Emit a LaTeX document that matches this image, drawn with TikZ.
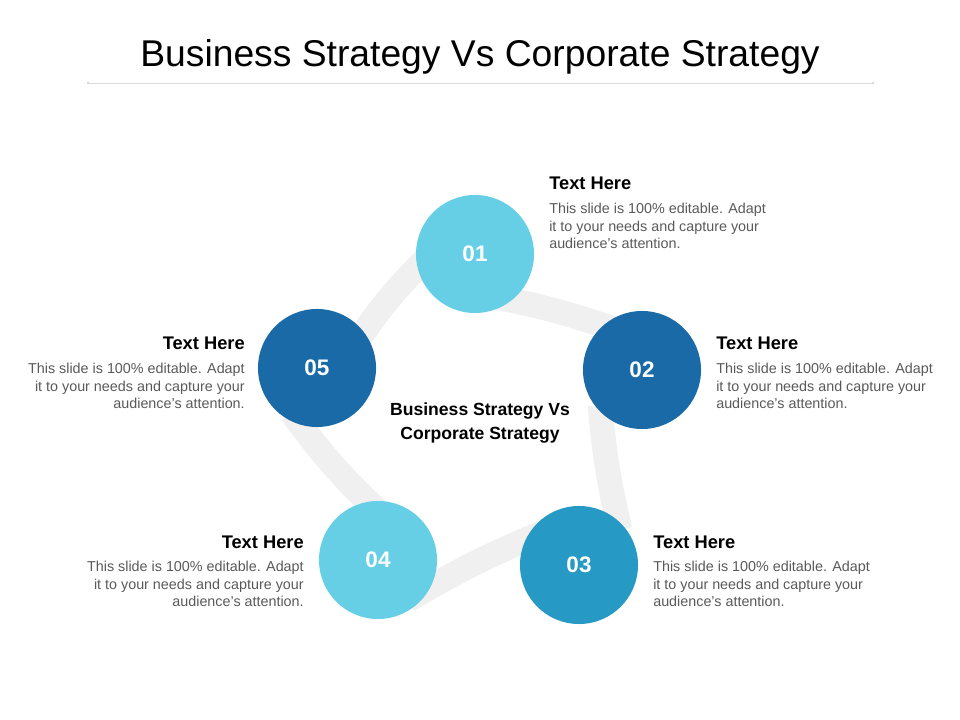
\documentclass[tikz,border=0pt]{standalone}
\usepackage{fontspec}
\setmainfont{Liberation Sans}
\usetikzlibrary{positioning,backgrounds,calc}
\definecolor{lightblue}{HTML}{66CFE6}
\definecolor{darkblue}{HTML}{1A6AA8}
\definecolor{midblue}{HTML}{2699C4}
\definecolor{ribbon}{HTML}{F0F0F0}
\definecolor{bodygray}{HTML}{595959}
\definecolor{rulegray}{HTML}{D9D9D9}

\begin{document}
\begin{tikzpicture}[x=0.025cm,y=-0.025cm,
		step node/.style={circle,minimum size=2.95cm,inner sep=0pt,text=white,font=\fontsize{16}{16}\selectfont\bfseries},
		band/.style={ribbon,line width=0.62cm},
		head/.style={font=\fontsize{13}{14}\selectfont\bfseries,inner sep=0pt},
		body/.style={font=\fontsize{10.2}{12.4}\selectfont,text=bodygray,inner sep=0pt}]
		
		\useasboundingbox (0,0) rectangle (960,720);
		
		% title
		\node[font=\fontsize{26.5}{30}\selectfont] (title) at (480,57) {Business Strategy Vs Corporate Strategy};
		\draw[rulegray] (88,83) -- (873,83);
		\fill[rulegray] (88,83) circle (1.5) (873,83) circle (1.5);
		
		% circles
		\node[step node,fill=lightblue] (c1) at (475,254) {01};
		\node[step node,fill=darkblue] (c2) at (642,370) {02};
		\node[step node,fill=midblue] (c3) at (579,565) {03};
		\node[step node,fill=lightblue] (c4) at (378,560) {04};
		\node[step node,fill=darkblue] (c5) at (317,368) {05};
		
		% ribbon
		\begin{scope}[on background layer]
		\draw[band] ($(c1)+(-45,1)$) to[bend right=6] ($(c5)+(38,-23)$);
		\draw[band] ($(c1)+(15,42)$) to[bend left=4] ($(c2)+(-25,-40)$);
		\draw[band] ($(c2)+(-42,35)$) to[bend right=4] ($(c3)+(41,-35)$);
		\draw[band] ($(c3)+(-30,-35)$) to[bend right=4] ($(c4)+(30,40)$);
		\draw[band] ($(c4)+(10,-40)$) to[bend left=6] ($(c5)+(-25,45)$);
		\end{scope}
		
		\node[font=\fontsize{12.5}{17}\selectfont\bfseries,align=center] (centre) at (480,423) {Business Strategy Vs\\Corporate Strategy};
		
		% texts
		\node[head,anchor=base west] (h1) at (549,190) {Text Here};
		\node[body,align=left,below=9pt of h1.south west,anchor=north west] (b1) {This slide is 100\% editable. Adapt\\it to your needs and capture your\\audience's attention.};
		
		\node[head,anchor=base west] (h2) at (716,350) {Text Here};
		\node[body,align=left,below=9pt of h2.south west,anchor=north west] (b2) {This slide is 100\% editable. Adapt\\it to your needs and capture your\\audience's attention.};
		
		\node[head,anchor=base west] (h3) at (653,548) {Text Here};
		\node[body,align=left,below=9pt of h3.south west,anchor=north west] (b3) {This slide is 100\% editable. Adapt\\it to your needs and capture your\\audience's attention.};
		
		\node[head,anchor=base east] (h4) at (304,548) {Text Here};
		\node[body,align=right,below=9pt of h4.south east,anchor=north east] (b4) {This slide is 100\% editable. Adapt\\it to your needs and capture your\\audience's attention.};
		
		\node[head,anchor=base east] (h5) at (245,350) {Text Here};
		\node[body,align=right,below=9pt of h5.south east,anchor=north east] (b5) {This slide is 100\% editable. Adapt\\it to your needs and capture your\\audience's attention.};
	\end{tikzpicture}
\end{document}
